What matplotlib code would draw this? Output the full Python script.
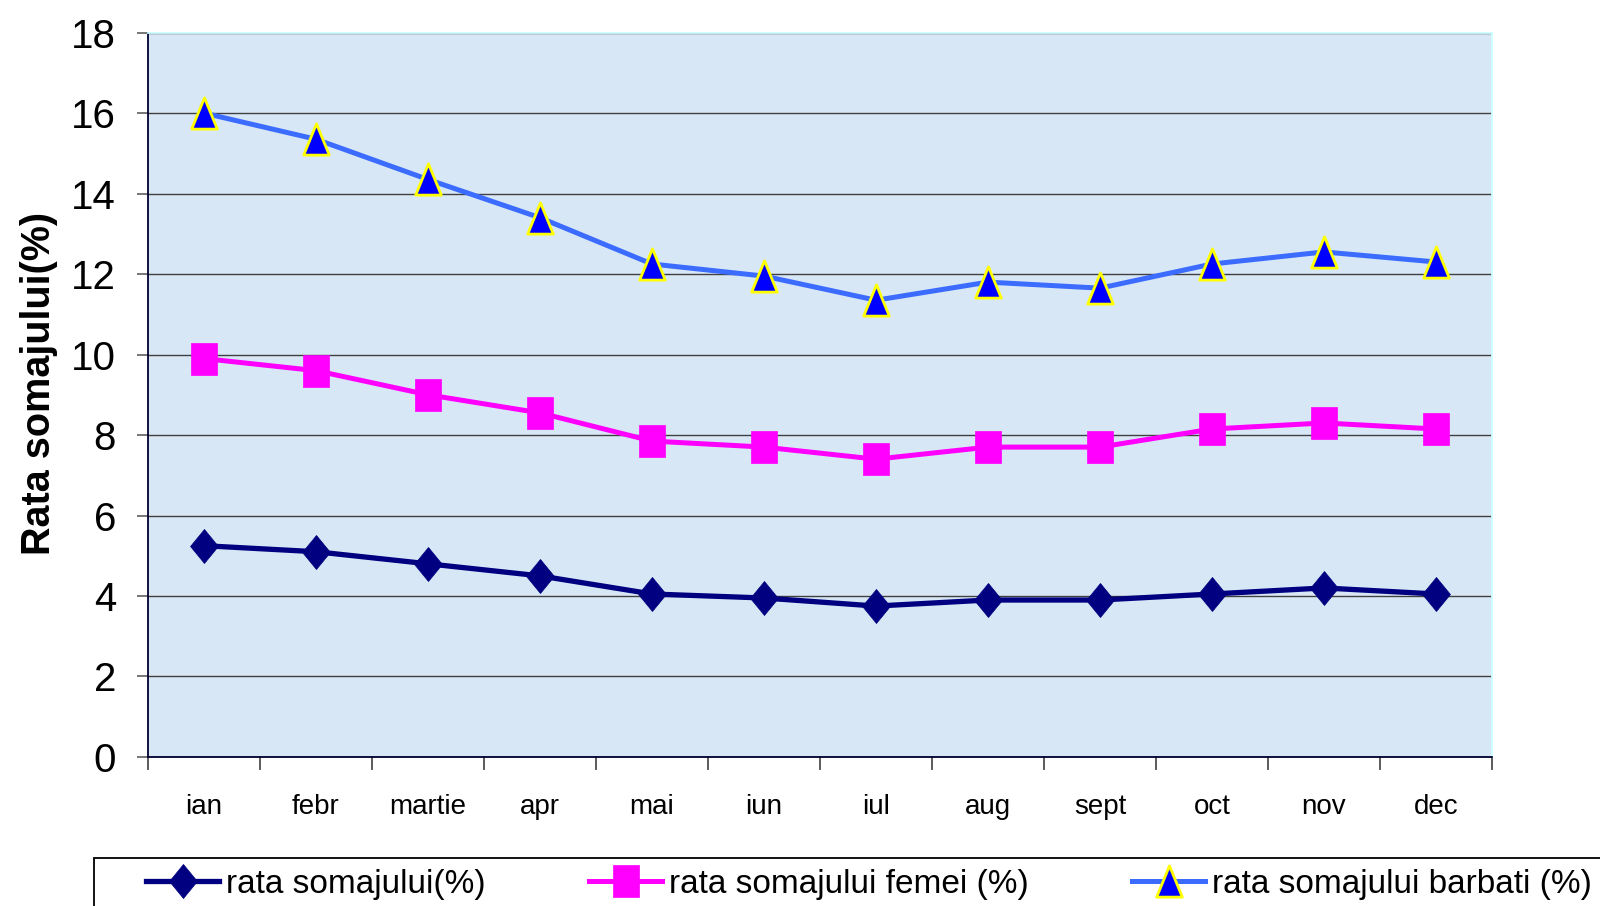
import numpy as np
import matplotlib
matplotlib.use('Agg')
import matplotlib.pyplot as plt
from matplotlib.path import Path
from matplotlib.patches import Rectangle

# --- date ---
luni = ['ian', 'febr', 'martie', 'apr', 'mai', 'iun', 'iul', 'aug', 'sept', 'oct', 'nov', 'dec']
rata_total = [5.25, 5.1, 4.8, 4.5, 4.05, 3.95, 3.75, 3.9, 3.9, 4.05, 4.2, 4.05]
rata_femei = [9.9, 9.6, 9.0, 8.55, 7.85, 7.7, 7.4, 7.7, 7.7, 8.15, 8.3, 8.15]
rata_barbati = [16.0, 15.35, 14.35, 13.4, 12.25, 11.95, 11.35, 11.8, 11.65, 12.25, 12.55, 12.3]

etichete = ['rata somajului(%)', 'rata somajului femei (%)', 'rata somajului barbati (%)']

plt.rcParams['font.family'] = ['Liberation Sans', 'DejaVu Sans']

# markere "intinse" pe verticala, ca in original
romb = Path([(0, 1), (0.82, 0), (0, -1), (-0.82, 0), (0, 1)],
            [Path.MOVETO, Path.LINETO, Path.LINETO, Path.LINETO, Path.CLOSEPOLY])
patrat = Path([(-0.82, -1), (0.82, -1), (0.82, 1), (-0.82, 1), (-0.82, -1)],
              [Path.MOVETO, Path.LINETO, Path.LINETO, Path.LINETO, Path.CLOSEPOLY])
triunghi = Path([(0, 1), (0.82, -1), (-0.82, -1), (0, 1)],
                [Path.MOVETO, Path.LINETO, Path.LINETO, Path.CLOSEPOLY])

fig = plt.figure(figsize=(16, 9.06), dpi=100)
ax = fig.add_axes([0.0925, 0.1645, 0.84, 0.7995])
ax.set_facecolor('#d8e7f6')

x = np.arange(len(luni))
ax.plot(x, rata_total, color='#000080', lw=3.8, marker=romb, ms=24.5,
        mfc='#000080', mec='#000080', mew=0.5, label=etichete[0], zorder=3)
ax.plot(x, rata_femei, color='#ff00ff', lw=3.6, marker=patrat, ms=22.5,
        mfc='#ff00ff', mec='#ff00ff', mew=0.5, label=etichete[1], zorder=3)
ax.plot(x, rata_barbati, color='#3b6cff', lw=3.6, marker=triunghi, ms=22.5,
        mfc='#0000ff', mec='#ffff00', mew=2.0, label=etichete[2], zorder=4)

ax.set_xlim(-0.5, len(luni) - 0.5)
ax.set_ylim(0, 18)
ax.set_yticks(np.arange(0, 19, 2))
ax.grid(axis='y', color='#404040', lw=1.0)
ax.set_axisbelow(True)

# etichete luni la mijloc, tick-uri intre categorii
ax.set_xticks(np.arange(-0.5, len(luni), 1.0))
ax.set_xticklabels([])
ax.set_xticks(x, minor=True)
ax.set_xticklabels(luni, minor=True, fontsize=20)
ax.tick_params(axis='x', which='minor', length=0, pad=27)
ax.tick_params(axis='x', which='major', length=9, width=1.2, color='#404040', direction='out')
ax.tick_params(axis='y', length=8, width=1.2, color='#606060', labelsize=29, pad=15)

ax.spines['left'].set_color('#000030')
ax.spines['bottom'].set_color('#000030')
ax.spines['top'].set_color('#ccffff')
ax.spines['right'].set_color('#ccffff')
for s in ax.spines.values():
    s.set_linewidth(1.3)

ax.set_ylabel('Rata somajului(%)', fontsize=28.5, fontweight='bold')
ax.yaxis.set_label_coords(-0.067, 0.515)

# cadrul legendei (iese din imagine la dreapta si jos, ca in original)
fig.patches.append(Rectangle((94 / 1600, -0.05), 1.0, 1 - 858 / 906 + 0.05,
                             transform=fig.transFigure, fill=False,
                             edgecolor='black', lw=1.3))

fig.legend(loc='center left', bbox_to_anchor=(146 / 1600, 1 - 884 / 906),
           ncol=3, fontsize=24, frameon=False, handlelength=2.2,
           handletextpad=0.2, columnspacing=3.1, borderpad=0,
           borderaxespad=0, markerscale=1.0)

fig.savefig('out.png', dpi=100)
